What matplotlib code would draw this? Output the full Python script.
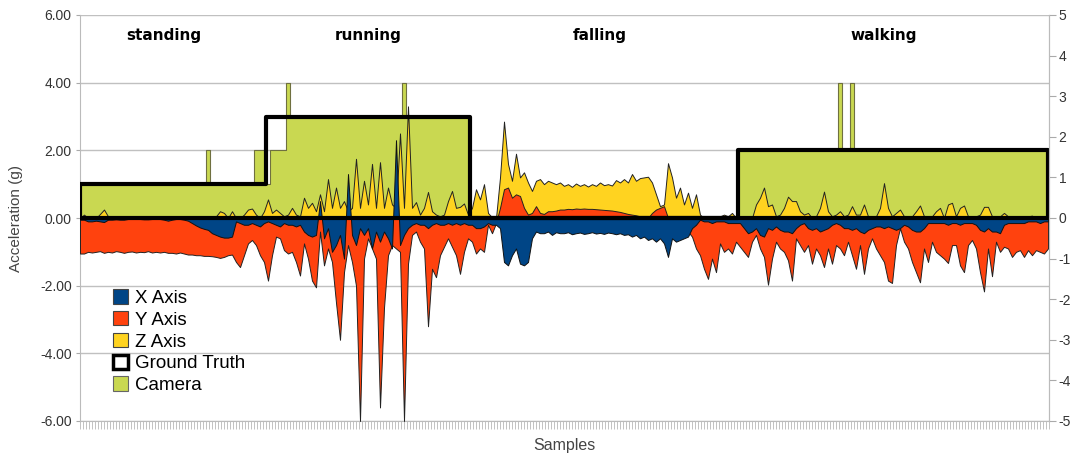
import numpy as np
import matplotlib
matplotlib.use('Agg')
import matplotlib.pyplot as plt
from matplotlib.patches import Patch

# accelerometer samples (g), one value per sample
x_axis = [
    -0.05, -0.05, -0.10, -0.10, -0.08, -0.10, -0.12, -0.05, -0.05, -0.04,
    -0.05, -0.05, -0.03, -0.03, -0.03, -0.03, -0.04, -0.04, -0.03, -0.03,
    -0.03, -0.05, -0.08, -0.05, -0.03, -0.03, -0.05, -0.08, -0.15, -0.22,
    -0.28, -0.32, -0.35, -0.45, -0.50, -0.55, -0.58, -0.58, -0.55, -0.10,
    -0.15, -0.20, -0.20, -0.15, -0.20, -0.25, -0.15, -0.10, -0.15, -0.20,
    -0.25, -0.15, -0.20, -0.20, -0.25, -0.20, -0.40, -0.50, -0.55, -0.50,
    0.50, -0.60, -0.30, -1.00, -0.80, -0.50, -1.20, 1.30, -0.50, -0.80,
    -0.30, -0.50, -0.30, -0.90, -0.40, -0.70, -0.40, -0.60, -0.90, 2.30,
    -0.80, -0.50, -0.30, -0.20, -0.15, -0.20, -0.20, -0.30, -0.20, -0.15,
    -0.20, -0.20, -0.15, -0.20, -0.15, -0.20, -0.15, -0.20, -0.20, -0.30,
    -0.30, -0.25, -0.15, -0.20, -0.20, -0.30, -1.30, -1.40, -1.10, -0.90,
    -1.35, -1.40, -1.30, -0.60, -0.40, -0.45, -0.45, -0.40, -0.50, -0.42,
    -0.45, -0.45, -0.42, -0.48, -0.45, -0.43, -0.47, -0.45, -0.42, -0.46,
    -0.44, -0.47, -0.43, -0.45, -0.48, -0.45, -0.50, -0.48, -0.55, -0.50,
    -0.60, -0.55, -0.65, -0.60, -0.70, -0.60, -0.75, -1.15, -0.60, -0.70,
    -0.65, -0.60, -0.55, -0.30, -0.20, -0.05, -0.10, -0.10, -0.15, -0.10,
    -0.10, -0.10, -0.15, -0.15, -0.15, -0.15, -0.30, -0.45, -0.40, -0.30,
    -0.50, -0.55, -0.30, -0.35, -0.25, -0.35, -0.40, -0.40, -0.45, -0.30,
    -0.20, -0.15, -0.30, -0.35, -0.30, -0.40, -0.35, -0.30, -0.20, -0.15,
    -0.20, -0.30, -0.30, -0.35, -0.30, -0.40, -0.45, -0.35, -0.30, -0.25,
    -0.25, -0.30, -0.25, -0.30, -0.35, -0.30, -0.20, -0.25, -0.35, -0.40,
    -0.40, -0.30, -0.15, -0.15, -0.15, -0.15, -0.15, -0.20, -0.15, -0.15,
    -0.20, -0.15, -0.15, -0.15, -0.20, -0.35, -0.40, -0.30, -0.40, -0.40,
    -0.45, -0.20, -0.15, -0.15, -0.15, -0.15, -0.15, -0.10, -0.10, -0.10,
    -0.15, -0.10, -0.10,
]

y_axis = [
    -1.05, -1.05, -1.00, -1.02, -1.00, -0.98, -1.03, -1.00, -1.02, -0.98,
    -1.00, -1.03, -1.00, -0.99, -1.02, -1.00, -1.01, -0.98, -1.02, -1.00,
    -1.02, -1.00, -1.03, -1.03, -1.05, -1.02, -1.05, -1.08, -1.08, -1.10,
    -1.10, -1.12, -1.12, -1.13, -1.15, -1.18, -1.15, -1.10, -1.08, -1.30,
    -1.45, -1.10, -0.75, -0.65, -0.80, -1.10, -1.30, -1.85, -1.10, -0.55,
    -0.60, -0.95, -1.05, -1.00, -1.30, -1.70, -0.75, -1.20, -1.85, -2.05,
    -0.40, -1.40, -0.90, -1.30, -2.50, -3.60, -1.60, -0.80, -1.30, -2.00,
    -6.00, -1.20, -0.60, -0.90, -1.20, -5.60, -2.65, -1.10, -0.80, -0.90,
    -1.00, -6.00, -1.35, -0.50, -0.40, -0.70, -0.90, -3.20, -1.50, -1.75,
    -1.10, -0.85, -0.60, -0.85, -1.10, -1.65, -1.00, -0.60, -0.70, -1.05,
    -0.90, -1.00, -0.20, -0.45, -0.15, 0.30, 0.85, 0.90, 0.60, 0.70,
    0.65, 0.30, 0.10, 0.15, 0.35, 0.15, 0.12, 0.20, 0.20, 0.22,
    0.25, 0.25, 0.27, 0.26, 0.28, 0.27, 0.28, 0.27, 0.27, 0.26,
    0.25, 0.24, 0.23, 0.22, 0.20, 0.18, 0.15, 0.12, 0.10, 0.08,
    0.05, 0.00, 0.00, 0.15, 0.25, 0.30, 0.35, 0.00, 0.00, 0.00,
    0.00, 0.00, -0.40, -0.55, -0.90, -1.10, -1.50, -1.80, -1.20, -1.60,
    -0.75, -1.00, -0.90, -1.05, -0.70, -0.85, -1.00, -1.15, -0.70, -0.50,
    -0.90, -1.15, -1.97, -1.20, -0.70, -0.90, -1.00, -1.25, -1.85, -0.60,
    -0.80, -1.00, -0.80, -1.35, -0.90, -1.10, -1.45, -0.90, -1.35, -0.80,
    -0.90, -1.10, -0.70, -1.10, -1.50, -0.80, -1.65, -0.90, -0.60, -0.90,
    -1.10, -1.30, -1.85, -1.92, -0.80, -0.30, -0.70, -0.90, -1.30, -1.60,
    -1.90, -0.90, -1.30, -0.70, -1.00, -1.10, -1.20, -1.33, -0.80, -0.80,
    -1.40, -1.60, -0.80, -0.65, -0.90, -1.60, -2.17, -0.90, -1.72, -0.70,
    -1.00, -0.85, -0.90, -1.15, -1.00, -0.95, -1.15, -0.95, -1.10, -0.95,
    -1.00, -1.05, -0.90,
]

z_axis = [
    0.00, 0.10, 0.00, 0.00, 0.00, 0.12, 0.25, 0.05, 0.00, 0.00,
    0.02, 0.00, 0.00, 0.00, 0.00, 0.00, 0.00, 0.00, 0.00, 0.00,
    0.00, 0.00, 0.05, 0.00, 0.00, 0.05, 0.00, 0.00, 0.00, 0.00,
    0.00, 0.00, 0.00, 0.00, 0.05, 0.20, 0.15, 0.00, 0.20, 0.00,
    0.00, 0.10, 0.25, 0.28, 0.10, 0.00, 0.20, 0.55, 0.15, 0.25,
    0.15, 0.05, 0.10, 0.30, 0.10, 0.05, 0.60, 0.30, 0.45, 0.20,
    0.70, 0.20, 1.15, 0.30, 0.90, 0.30, 0.50, 0.20, 0.30, 1.75,
    0.30, 1.10, 0.40, 1.60, 0.30, 1.65, 0.30, 0.90, 0.40, 0.30,
    2.50, 0.30, 3.30, 0.30, 0.47, 0.10, 0.30, 0.77, 0.20, 0.10,
    0.05, 0.10, 0.50, 0.80, 0.30, 0.33, 0.43, 0.10, 0.30, 0.85,
    0.55, 1.00, 0.15, 0.02, 0.00, 1.20, 2.85, 1.60, 1.10, 1.90,
    1.20, 1.35, 1.05, 0.80, 1.10, 1.15, 1.00, 1.10, 1.05, 1.00,
    1.05, 0.95, 1.00, 0.92, 1.02, 0.95, 1.00, 0.93, 1.00, 0.95,
    1.05, 0.97, 1.00, 0.96, 1.12, 1.05, 1.15, 1.05, 1.30, 1.10,
    1.18, 1.20, 1.22, 1.05, 0.70, 0.35, 0.40, 1.62, 1.20, 0.60,
    0.90, 0.40, 0.75, 0.30, 0.70, 0.10, 0.00, 0.00, 0.02, 0.00,
    0.05, 0.10, 0.05, 0.15, 0.00, 0.00, 0.00, 0.05, 0.00, 0.40,
    0.60, 0.90, 0.35, 0.40, 0.05, 0.10, 0.30, 0.63, 0.50, 0.50,
    0.20, 0.10, 0.15, 0.00, 0.05, 0.30, 0.78, 0.20, 0.05, 0.10,
    0.20, 0.05, 0.10, 0.35, 0.10, 0.10, 0.40, 0.05, 0.00, 0.05,
    0.30, 1.03, 0.30, 0.05, 0.15, 0.25, 0.05, 0.00, 0.05, 0.20,
    0.37, 0.05, 0.00, 0.05, 0.20, 0.30, 0.00, 0.40, 0.45, 0.05,
    0.30, 0.37, 0.05, 0.00, 0.05, 0.10, 0.33, 0.33, 0.05, 0.00,
    0.05, 0.15, 0.05, 0.00, 0.00, 0.00, 0.00, 0.05, 0.07, 0.00,
    0.00, 0.00, 0.00,
]

# step signals as (first sample, last sample, level)
camera_segments = [
    (0, 31, 1), (32, 32, 2), (33, 43, 1), (44, 46, 2), (47, 47, 1),
    (48, 51, 2), (52, 52, 4), (53, 80, 3), (81, 81, 4), (82, 97, 3),
    (98, 164, 0), (165, 189, 2), (190, 190, 4), (191, 192, 2),
    (193, 193, 4), (194, 242, 2),
]
truth_segments = [(0, 46, 1), (47, 97, 3), (98, 164, 0), (165, 242, 2)]

activities = ['standing', 'running', 'falling', 'walking']
activity_pos = [21, 72, 130, 201]

n = len(x_axis)
s = np.arange(n)

camera = np.zeros(n)
for a, b, v in camera_segments:
    camera[a:b + 1] = v
truth = np.zeros(n)
for a, b, v in truth_segments:
    truth[a:b + 1] = v

c_x = '#004586'
c_y = '#ff420e'
c_z = '#ffd320'
c_cam = '#c9d851'

fig = plt.figure(figsize=(10.73, 4.54), dpi=100)
ax = fig.add_axes([80 / 1073, 1 - 421 / 454, 969 / 1073, 406 / 454])

ax.fill_between(s, 0, camera, step='mid', facecolor=c_cam, edgecolor='#6f7040', lw=0.8, zorder=2)
ax.fill_between(s, 0, z_axis, facecolor=c_z, edgecolor='#222222', lw=0.7, zorder=3)
ax.fill_between(s, 0, y_axis, facecolor=c_y, edgecolor='#222222', lw=0.7, zorder=4)
ax.fill_between(s, 0, x_axis, facecolor=c_x, edgecolor='#111111', lw=0.7, zorder=5)
ax.fill_between(s, 0, truth, step='mid', facecolor='none', edgecolor='black', lw=3, zorder=6)

ax.set_xlim(0, n - 0.75)
ax.set_ylim(-6, 6)
ax.set_yticks(np.arange(-6, 7, 2))
ax.set_yticklabels([f'{v:.2f}' for v in np.arange(-6, 7, 2)],
                   fontsize=10, family='Liberation Sans', color='#333333')
ax.yaxis.grid(True, color='#c0c0c0', lw=1)
ax.set_axisbelow(True)
ax.set_xticks(np.arange(0, n, 0.75))
ax.set_xticklabels([])
ax.tick_params(axis='x', length=6, width=0.5, color='#aaaaaa')
ax.tick_params(axis='y', length=3, width=0.8, color='#aaaaaa', pad=3)
ax.spines['top'].set_visible(False)
for side in ['left', 'right', 'bottom']:
    ax.spines[side].set_color('#bbbbbb')

ax.set_ylabel('Acceleration (g)', fontsize=11, family='Liberation Sans', color='#444444', labelpad=12)
ax.set_xlabel('Samples', fontsize=11.5, family='Liberation Sans', color='#444444', labelpad=3)

for name, pos in zip(activities, activity_pos):
    ax.text(pos, 5.4, name, ha='center', va='center', fontsize=11,
            fontweight='bold', family='DejaVu Sans', zorder=7)

ax2 = ax.twinx()
ax2.set_ylim(-5, 5)
ax2.set_yticks(np.arange(-5, 6, 1))
ax2.set_yticklabels([str(v) for v in range(-5, 6)], fontsize=10,
                    family='Liberation Sans', color='#333333')
ax2.tick_params(axis='y', length=5, width=0.8, color='#aaaaaa', pad=2)
for side in ['top', 'left', 'bottom']:
    ax2.spines[side].set_visible(False)
ax2.spines['right'].set_color('#bbbbbb')

handles = [
    Patch(facecolor=c_x, edgecolor='#444444', lw=0.8, label='X Axis'),
    Patch(facecolor=c_y, edgecolor='#444444', lw=0.8, label='Y Axis'),
    Patch(facecolor=c_z, edgecolor='#444444', lw=0.8, label='Z Axis'),
    Patch(facecolor='white', edgecolor='black', lw=2.5, label='Ground Truth'),
    Patch(facecolor=c_cam, edgecolor='#666666', lw=0.8, label='Camera'),
]
leg = ax.legend(handles=handles, loc='upper left', bbox_to_anchor=(0.026, 0.343),
                frameon=False, prop={'family': 'Liberation Sans', 'size': 13.5},
                handlelength=0.8, handleheight=0.8, handletextpad=0.4,
                labelspacing=0.22, borderaxespad=0)
leg.set_zorder(8)

fig.savefig('out.png', dpi=100)
